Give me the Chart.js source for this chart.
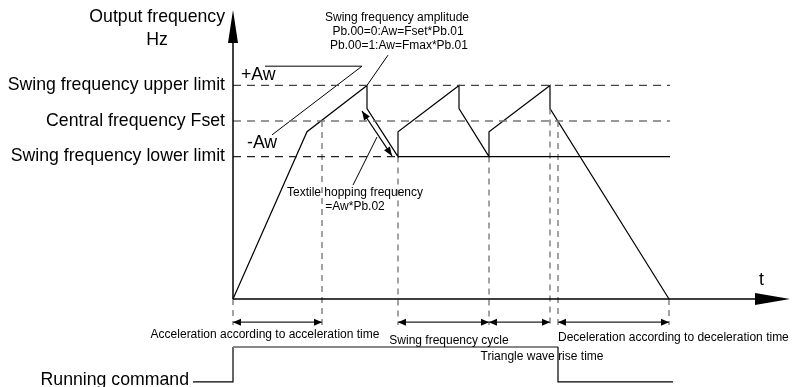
<!DOCTYPE html>
<html><head><meta charset="utf-8">
<script src="https://cdn.jsdelivr.net/npm/chart.js@4.4.1/dist/chart.umd.min.js"></script>
<style>html,body{margin:0;padding:0;background:#fff}canvas{display:block}</style>
</head><body>
<canvas id="c" width="794" height="387"></canvas>
<script>
// Swing-frequency curve: time (s) and output frequency (Hz)
const curveTime = [0, 7.4, 13.4, 13.4, 16.5, 16.5, 22.6, 22.6, 25.6, 25.6, 31.7, 31.7, 43.6];
const curveFreq = [0, 47, 60, 53.5, 40, 47, 60, 53.5, 40, 47, 60, 53.5, 0];
// Reference levels
const levelNames = ["Swing frequency upper limit", "Central frequency Fset", "Swing frequency lower limit"];
const levelValues = [60, 50, 40];
const levelEnd = 43.7;
const lowerDashEnd = 16.5;
// Vertical guide lines (time, top frequency)
const guideTimes = [0, 8.9, 16.5, 25.6, 31.7, 32.5, 43.6];
const guideTops = [0, 50, 40, 40, 53.5, 50, 0];
const guideBottom = -7.3;
// Dimension spans
const spanStarts = [0, 16.5, 25.6, 32.5];
const spanEnds = [8.9, 25.6, 31.7, 43.6];
const spanLabels = ["Acceleration according to acceleration time", "Swing frequency cycle", "Triangle wave rise time", "Deceleration according to deceleration time"];
const spanLevel = -6.5;
// Running command signal
const runTime = [-4, 0, 0, 32.5, 32.5, 44];
const runLevel = [-23.3, -23.3, -13.5, -13.5, -23.3, -23.3];
// Annotation leader lines (time, freq pairs)
const awLeaderTime = [3.2, 12.9, 3.9];
const awLeaderFreq = [65.4, 65.4, 46.1];
const ampLeaderTime = [15.5, 13.4];
const ampLeaderFreq = [68.5, 60];
const hopLeaderTime = [14.4, 12.0];
const hopLeaderFreq = [45.5, 32.0];
const hopArrowTime = [12.9, 15.9];
const hopArrowFreq = [52.8, 40.2];
// Axes
const axisTimeEnd = 52.2, axisTimeTip = 55.7;
const axisFreqEnd = 71.9, axisFreqTip = 81.2;

const pts = (xs, ys) => xs.map((x, i) => ({x, y: ys[i]}));
const ds = (data, color, width, dash, extra) => Object.assign({data, showLine: true, pointRadius: 0, borderColor: color, borderWidth: width, borderDash: dash || [], fill: false, tension: 0, clip: false}, extra || {});

const datasets = [];
// axes
datasets.push(ds(pts([0, 0], [0, axisFreqEnd]), '#000', 1.5));
datasets.push(ds(pts([0, axisTimeEnd], [0, 0]), '#000', 1.5));
// levels
const levelColors = ['#444', '#777', '#222'];
levelValues.forEach((v, i) => {
  const end = (v === 40) ? lowerDashEnd : levelEnd;
  datasets.push(ds(pts([0, end], [v, v]), levelColors[i], i === 1 ? 1.6 : 1.2, [8, 6]));
});
datasets.push(ds(pts([lowerDashEnd, levelEnd], [40, 40]), '#000', 1.2));
// guides
guideTimes.forEach((t, i) => {
  datasets.push(ds(pts([t, t], [guideTops[i], guideBottom]), '#666', 1.2, [6, 5]));
});
// spans
spanStarts.forEach((s, i) => {
  datasets.push(ds(pts([s, spanEnds[i]], [spanLevel, spanLevel]), '#222', 1.2));
});
// running command
datasets.push(ds(pts(runTime, runLevel), '#000', 1.2, [], {
  segment: {
    borderColor: c => (c.p0.parsed.y === c.p1.parsed.y && c.p0.parsed.y > -20) ? '#888' : '#000',
    borderWidth: c => (c.p0.parsed.y === c.p1.parsed.y && c.p0.parsed.y > -20) ? 2 : 1.2
  }
}));
// leaders
datasets.push(ds(pts(awLeaderTime, awLeaderFreq), '#000', 1));
datasets.push(ds(pts(ampLeaderTime, ampLeaderFreq), '#000', 1));
datasets.push(ds(pts(hopLeaderTime, hopLeaderFreq), '#000', 1));
datasets.push(ds(pts(hopArrowTime, hopArrowFreq), '#000', 1.2));
// main curve
datasets.push(ds(pts(curveTime, curveFreq), '#000', 1.2));

function head(ctx, x1, y1, x2, y2, len, half) {
  const a = Math.atan2(y2 - y1, x2 - x1);
  ctx.beginPath();
  ctx.moveTo(x2, y2);
  ctx.lineTo(x2 - len * Math.cos(a) + half * Math.sin(a), y2 - len * Math.sin(a) - half * Math.cos(a));
  ctx.lineTo(x2 - len * Math.cos(a) - half * Math.sin(a), y2 - len * Math.sin(a) + half * Math.cos(a));
  ctx.closePath();
  ctx.fill();
}

const BIG = '17.7px "Liberation Sans", Arial, sans-serif';
const SMALL = '12px "Liberation Sans", Arial, sans-serif';

const decor = {
  id: 'decor',
  afterDatasetsDraw(chart) {
    const ctx = chart.ctx, X = chart.scales.x, Y = chart.scales.y;
    const px = t => X.getPixelForValue(t), py = f => Y.getPixelForValue(f);
    ctx.save();
    ctx.fillStyle = '#000';
    // axis arrowheads
    head(ctx, px(0), py(0), px(0), py(axisFreqTip), py(axisFreqEnd) - py(axisFreqTip), 5);
    head(ctx, px(0), py(0), px(axisTimeTip), py(0), px(axisTimeTip) - px(axisTimeEnd), 6);
    // span arrowheads
    spanStarts.forEach((s, i) => {
      const a = px(s), b = px(spanEnds[i]), y = py(spanLevel);
      head(ctx, b, y, a, y, 8, 3.5);
      head(ctx, a, y, b, y, 8, 3.5);
    });
    // hop arrow heads
    const h1x = px(hopArrowTime[0]), h1y = py(hopArrowFreq[0]), h2x = px(hopArrowTime[1]), h2y = py(hopArrowFreq[1]);
    head(ctx, h2x, h2y, h1x, h1y, 9, 3.5);
    head(ctx, h1x, h1y, h2x, h2y, 9, 3.5);
    // texts
    ctx.textBaseline = 'middle';
    ctx.font = BIG;
    ctx.textAlign = 'right';
    ctx.fillText('Output frequency', px(0) - 8, 17);
    levelValues.forEach((v, i) => ctx.fillText(levelNames[i], px(0) - 8, py(v)));
    ctx.textAlign = 'center';
    ctx.fillText('Hz', 157, 40);
    ctx.textAlign = 'left';
    ctx.fillText('+Aw', 241, 75);
    ctx.fillText('-Aw', 247, 143);
    ctx.fillText('t', 759, 280);
    ctx.textAlign = 'right';
    ctx.fillText('Running command', 189, py(runLevel[0]) - 2);
    ctx.font = SMALL;
    ctx.textAlign = 'center';
    ctx.fillText('Swing frequency amplitude', 397, 18);
    ctx.fillText('Pb.00=0:Aw=Fset*Pb.01', 398, 32);
    ctx.fillText('Pb.00=1:Aw=Fmax*Pb.01', 399, 46);
    ctx.fillText('Textile hopping frequency', 355, 193);
    ctx.fillText('=Aw*Pb.02', 355, 207);
    ctx.fillText(spanLabels[0], 265, 335);
    ctx.fillText(spanLabels[1], 449, 341);
    ctx.fillText(spanLabels[2], 542, 357);
    ctx.textAlign = 'left';
    ctx.fillText(spanLabels[3], px(spanStarts[3]), 338);
    ctx.restore();
  }
};

new Chart(document.getElementById('c'), {
  type: 'scatter',
  data: {datasets},
  options: {
    responsive: false,
    devicePixelRatio: 1,
    animation: false,
    layout: {padding: 0},
    plugins: {legend: {display: false}, tooltip: {enabled: false}, title: {display: false}},
    scales: {
      x: {type: 'linear', min: -23.3, max: 56.1, display: false},
      y: {type: 'linear', min: -24.72, max: 83.99, display: false}
    }
  },
  plugins: [decor]
});
</script>
</body></html>
